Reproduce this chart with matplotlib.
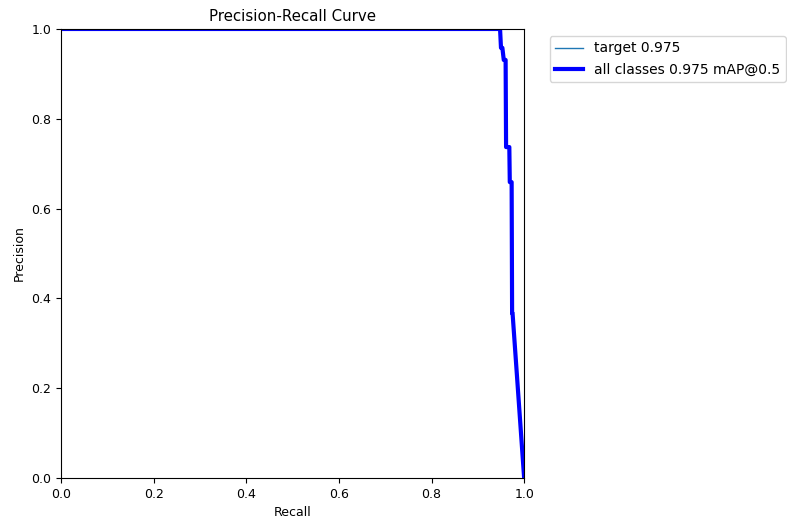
import matplotlib
matplotlib.use("Agg")
import matplotlib.pyplot as plt

# точки кривой precision-recall
recall = [0.0, 0.948, 0.950, 0.953, 0.956, 0.960, 0.961, 0.968, 0.969, 0.973, 0.974, 0.975, 1.0]
precision = [1.0, 1.0, 0.958, 0.958, 0.931, 0.931, 0.737, 0.737, 0.659, 0.659, 0.367, 0.367, 0.0]

class_name = "target"
class_ap = 0.975
map50 = 0.975

plt.rcParams["font.size"] = 9

fig = plt.figure(figsize=(7.87, 5.25), dpi=100)
ax = fig.add_axes([0.0775, 0.0895, 0.5885, 0.8553])

ax.plot(recall, precision, linewidth=1, label=f"{class_name} {class_ap:.3f}")
ax.plot(recall, precision, linewidth=3, color="blue", label=f"all classes {map50:.3f} mAP@0.5")

ax.set_xlabel("Recall")
ax.set_ylabel("Precision")
ax.set_xlim(0, 1)
ax.set_ylim(0, 1)
ax.set_title("Precision-Recall Curve")
ax.legend(bbox_to_anchor=(1.04, 1), loc="upper left", fontsize=10)

fig.savefig("out.png", dpi=100)
